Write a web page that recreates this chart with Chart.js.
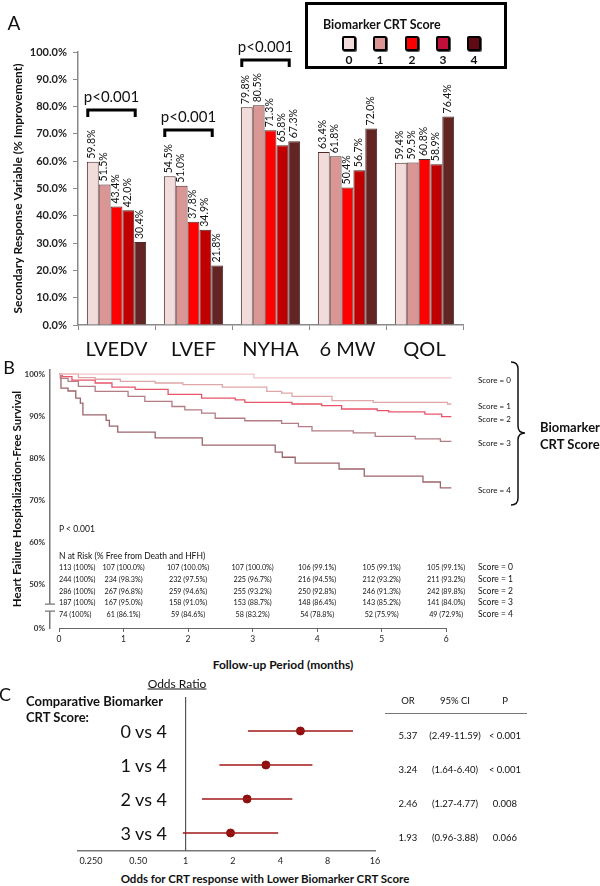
<!DOCTYPE html>
<html>
<head>
<meta charset="utf-8">
<title>Biomarker CRT Score</title>
<script src="https://cdn.jsdelivr.net/npm/chart.js@4.4.1/dist/chart.umd.min.js"></script>
<style>
  html, body { margin: 0; padding: 0; background: #fff; }
  #page { position: relative; width: 600px; height: 886px; overflow: hidden; font-family: Lato, 'Open Sans', sans-serif; color: #111; }
  #page canvas { position: absolute; }
  .lbl { position: absolute; white-space: nowrap; line-height: 1.1; }
  #legendBox { position: absolute; left: 305px; top: 2px; width: 196px; height: 61px; border: 3px solid #000; }
  .sw { position: absolute; width: 10px; height: 11px; border: 2px solid #000; border-radius: 2px; box-shadow: 1px 1px 0 #555; }
  .rule { position: absolute; height: 0; border-top: 1.5px solid #777; }
</style>
</head>
<body>
<div id="page">
  <canvas id="chartA" width="475" height="375" style="left:0;top:0"></canvas>
  <canvas id="chartB" width="600" height="290" style="left:0;top:360px"></canvas>
  <canvas id="chartC" width="420" height="181" style="left:0;top:690px"></canvas>
  <div id="legendBox"></div>
</div>
<script>
// ---- Panel A: secondary response by biomarker score ----
const outcomes = ['LVEDV', 'LVEF', 'NYHA', '6 MW', 'QOL'];
const scoreLabels = ['0', '1', '2', '3', '4'];
const score0Pct = [59.8, 54.5, 79.8, 63.4, 59.4];
const score1Pct = [51.5, 51.0, 80.5, 61.8, 59.5];
const score2Pct = [43.4, 37.8, 71.3, 50.4, 60.8];
const score3Pct = [42.0, 34.9, 65.8, 56.7, 58.9];
const score4Pct = [30.4, 21.8, 67.3, 72.0, 76.4];
const pctTicks = [0, 10, 20, 30, 40, 50, 60, 70, 80, 90, 100];
const bracketOutcomes = [0, 1, 2];
const bracketLevels = [78.8, 71.4, 97.1];
const bracketText = 'p<0.001';

// ---- Panel B: Kaplan-Meier curves (months, % free) ----
const km0Time = [0, 3.02, 6.08];
const km0Surv = [100, 99.1, 99.1];
const km1Time = [0, 0.30, 0.56, 0.95, 1.49, 1.92, 2.53, 3.22, 3.45, 3.61, 4.23, 4.87, 6.02, 6.08];
const km1Surv = [100, 99.2, 98.8, 98.3, 97.9, 97.5, 96.9, 95.9, 95.5, 94.7, 93.7, 93.3, 92.9, 92.9];
const km2Time = [0, 0.05, 0.20, 0.56, 0.82, 1.18, 1.69, 2.21, 2.73, 2.88, 3.61, 4.07, 4.38, 4.93, 5.11, 5.67, 5.93, 6.08];
const km2Surv = [100, 99.4, 98.6, 97.9, 96.9, 96.4, 95.2, 94.3, 93.9, 93.3, 92.9, 92.5, 91.7, 91.3, 91.0, 90.5, 89.9, 89.9];
const km3Time = [0, 0.02, 0.14, 0.30, 0.56, 1.07, 1.33, 1.75, 1.95, 2.21, 2.42, 2.88, 3.45, 3.71, 3.92, 4.56, 4.90, 5.52, 5.91, 6.08];
const km3Surv = [100, 99.0, 98.3, 97.1, 95.9, 94.7, 93.5, 92.3, 91.5, 90.7, 89.5, 88.9, 88.3, 87.5, 86.5, 86.0, 85.2, 84.6, 84.0, 84.0];
const km4Time = [0, 0.03, 0.14, 0.26, 0.33, 0.37, 0.73, 0.78, 0.91, 1.49, 2.22, 3.35, 3.46, 3.66, 4.34, 4.73, 5.64, 5.91, 6.08];
const km4Surv = [100, 96.7, 96.0, 94.3, 93.1, 90.3, 89.0, 87.6, 86.2, 84.8, 83.1, 81.4, 80.2, 78.8, 77.4, 75.7, 74.3, 72.9, 72.9];
const monthTicks = [0, 1, 2, 3, 4, 5, 6];
const survTickValues = [39.5, 50, 60, 70, 80, 90, 100];
const survTickLabels = ['0%', '50%', '60%', '70%', '80%', '90%', '100%'];
const riskScore0 = ['113 (100%)', '107 (100.0%)', '107 (100.0%)', '107 (100.0%)', '106 (99.1%)', '105 (99.1%)', '105 (99.1%)'];
const riskScore1 = ['244 (100%)', '234 (98.3%)', '232 (97.5%)', '225 (96.7%)', '216 (94.5%)', '212 (93.2%)', '211 (93.2%)'];
const riskScore2 = ['286 (100%)', '267 (96.8%)', '259 (94.6%)', '255 (93.2%)', '250 (92.8%)', '246 (91.3%)', '242 (89.8%)'];
const riskScore3 = ['187 (100%)', '167 (95.0%)', '158 (91.0%)', '153 (88.7%)', '148 (86.4%)', '143 (85.2%)', '141 (84.0%)'];
const riskScore4 = ['74 (100%)', '61 (86.1%)', '59 (84.6%)', '58 (83.2%)', '54 (78.8%)', '52 (75.9%)', '49 (72.9%)'];

// ---- Panel C: odds ratios ----
const comparisons = ['0 vs 4', '1 vs 4', '2 vs 4', '3 vs 4'];
const oddsRatios = [5.37, 3.24, 2.46, 1.93];
const ciLow = [2.49, 1.64, 1.27, 0.96];
const ciHigh = [11.59, 6.40, 4.77, 3.88];
const pValues = ['< 0.001', '< 0.001', '0.008', '0.066'];
const orTicks = [0.25, 0.5, 1, 2, 4, 8, 16];
const orTickLabels = ['0.250', '0.50', '1', '2', '4', '8', '16'];

const page = document.getElementById('page');
const barColors = ['#f2dcdb', '#d99694', '#ff0000', '#c00000', '#632523'];
const legendColors = ['#f2dcdb', '#d99694', '#ff0000', '#c0103a', '#600a14'];
const kmColors = ['#f4c6c6', '#dfa6a8', '#e85468', '#b47c84', '#9c646a'];
const ciColor = '#a01818';

function put(text, x, y, font, anchor = 'center', extra = '') {
  const d = document.createElement('div');
  d.className = 'lbl';
  d.textContent = text;
  const ax = anchor === 'left' ? '0%' : anchor === 'right' ? '-100%' : '-50%';
  d.style.cssText = `left:${x}px;top:${y}px;font:${font};transform:translate(${ax},-50%);${extra}`;
  page.appendChild(d);
  return d;
}

// Panel A
const barLabelPlugin = {
  id: 'barLabels',
  afterDatasetsDraw(chart) {
    const ctx = chart.ctx;
    ctx.save();
    ctx.font = '10.5px Lato';
    ctx.fillStyle = '#111';
    ctx.textAlign = 'left';
    ctx.textBaseline = 'middle';
    chart.data.datasets.forEach((ds, i) => {
      chart.getDatasetMeta(i).data.forEach((bar, j) => {
        ctx.save();
        ctx.translate(bar.x - 1, bar.y - 3);
        ctx.rotate(-Math.PI / 2);
        ctx.fillText(ds.data[j].toFixed(1) + '%', 0, 0);
        ctx.restore();
      });
    });
    ctx.restore();
  }
};

const bracketPlugin = {
  id: 'brackets',
  afterDatasetsDraw(chart) {
    const ctx = chart.ctx;
    const first = chart.getDatasetMeta(0);
    const last = chart.getDatasetMeta(4);
    ctx.save();
    bracketOutcomes.forEach((c, k) => {
      const x0 = first.data[c].x - 5;
      const x1 = last.data[c].x - 5;
      const yy = chart.scales.y.getPixelForValue(bracketLevels[k]);
      ctx.beginPath();
      ctx.moveTo(x0, yy + 7);
      ctx.lineTo(x0, yy);
      ctx.lineTo(x1, yy);
      ctx.lineTo(x1, yy + 7);
      ctx.lineWidth = 3;
      ctx.strokeStyle = '#000';
      ctx.stroke();
      ctx.font = '15px Lato';
      ctx.fillStyle = '#111';
      ctx.textAlign = 'center';
      ctx.textBaseline = 'middle';
      ctx.fillText(bracketText, (x0 + x1) / 2, yy - 13);
    });
    ctx.restore();
  }
};

const scoreSeries = [score0Pct, score1Pct, score2Pct, score3Pct, score4Pct];
new Chart(document.getElementById('chartA'), {
  type: 'bar',
  data: {
    labels: outcomes,
    datasets: scoreSeries.map((vals, i) => ({
      label: 'Score ' + scoreLabels[i],
      data: vals,
      backgroundColor: barColors[i],
      borderColor: '#4a2a2a',
      borderWidth: 1,
      categoryPercentage: 0.77,
      barPercentage: 1.0
    }))
  },
  options: {
    responsive: false,
    animation: false,
    layout: { padding: { top: 52, right: 12, bottom: 10, left: 0 } },
    plugins: { legend: { display: false }, tooltip: { enabled: false } },
    scales: {
      x: {
        grid: { offset: true, drawOnChartArea: false, tickLength: 5, color: '#8a8a8a' },
        border: { color: '#8a8a8a', width: 1.5 },
        ticks: { font: { family: 'Lato', size: 20 }, color: '#111', padding: 8 },
        afterFit: s => { s.height = 40; }
      },
      y: {
        min: 0, max: 100, bounds: 'data',
        afterBuildTicks: s => { s.ticks = pctTicks.map(v => ({ value: v })); },
        ticks: { callback: v => v.toFixed(1) + '%', font: { family: 'Lato', size: 11, weight: 'bold' }, color: '#222', padding: 6 },
        grid: { drawOnChartArea: false, tickLength: 5, color: '#8a8a8a' },
        border: { color: '#8a8a8a', width: 1.5 },
        title: {
          display: true, text: 'Secondary Response Variable (% Improvement)',
          font: { family: 'Lato', size: 12, weight: 'bold' }, color: '#111', padding: { top: 11, bottom: 0 }
        },
        afterFit: s => { s.width = 78; }
      }
    }
  },
  plugins: [barLabelPlugin, bracketPlugin]
});

put('A', 14, 22, '19px Lato');
put('Biomarker CRT Score', 323, 24, 'bold 12.5px Lato', 'left');
const swatchX = [349, 380, 412, 443, 474];
scoreLabels.forEach((s, i) => {
  const sw = document.createElement('div');
  sw.className = 'sw';
  sw.style.left = (swatchX[i] - 7) + 'px';
  sw.style.top = '36px';
  sw.style.background = legendColors[i];
  page.appendChild(sw);
  put(s, swatchX[i], 59, 'bold 12px Lato');
});

// Panel B
const kmTimes = [km0Time, km1Time, km2Time, km3Time, km4Time];
const kmSurv = [km0Surv, km1Surv, km2Surv, km3Surv, km4Surv];
const riskRows = [riskScore0, riskScore1, riskScore2, riskScore3, riskScore4];

const kmDecorPlugin = {
  id: 'kmDecor',
  afterDraw(chart) {
    const ctx = chart.ctx;
    const xs = chart.scales.x, ys = chart.scales.y;
    const a = chart.chartArea;
    ctx.save();
    // x axis line only from 0 to 6 months
    ctx.strokeStyle = '#666';
    ctx.lineWidth = 1.2;
    ctx.beginPath();
    ctx.moveTo(xs.getPixelForValue(monthTicks[0]), a.bottom + 0.5);
    ctx.lineTo(xs.getPixelForValue(monthTicks[monthTicks.length - 1]), a.bottom + 0.5);
    ctx.stroke();
    // axis break
    const yb1 = ys.getPixelForValue(45.2), yb2 = ys.getPixelForValue(43.5);
    ctx.fillStyle = '#fff';
    ctx.fillRect(a.left - 3, yb1, 6, yb2 - yb1);
    ctx.strokeStyle = '#777';
    ctx.lineWidth = 1.2;
    ctx.beginPath();
    ctx.moveTo(a.left - 5, yb1); ctx.lineTo(a.left + 5, yb1);
    ctx.moveTo(a.left - 5, yb2); ctx.lineTo(a.left + 5, yb2);
    ctx.stroke();
    // brace
    const bx = 518, bt = 2, bm = 73, bb = 145;
    ctx.strokeStyle = '#111';
    ctx.lineWidth = 1.5;
    ctx.beginPath();
    ctx.moveTo(bx - 7, bt);
    ctx.quadraticCurveTo(bx, bt, bx, bt + 7);
    ctx.lineTo(bx, bm - 7);
    ctx.quadraticCurveTo(bx, bm, bx + 7, bm);
    ctx.quadraticCurveTo(bx, bm, bx, bm + 7);
    ctx.lineTo(bx, bb - 7);
    ctx.quadraticCurveTo(bx, bb, bx - 7, bb);
    ctx.stroke();
    ctx.restore();
  }
};

const chartB = new Chart(document.getElementById('chartB'), {
  type: 'line',
  data: {
    datasets: kmTimes.map((times, i) => ({
      label: 'Score = ' + scoreLabels[i],
      data: times.map((t, j) => ({ x: t, y: kmSurv[i][j] })),
      stepped: true,
      borderColor: kmColors[i],
      borderWidth: 1.3,
      pointRadius: 0,
      fill: false
    }))
  },
  options: {
    responsive: false,
    animation: false,
    layout: { padding: { top: 10, right: 148, bottom: 0, left: 0 } },
    plugins: { legend: { display: false }, tooltip: { enabled: false } },
    scales: {
      x: {
        type: 'linear', min: -0.14, max: 6.09, bounds: 'data',
        afterBuildTicks: s => { s.ticks = monthTicks.map(v => ({ value: v })); },
        ticks: { callback: v => String(v), font: { family: 'Lato', size: 8.5 }, color: '#222', padding: 2 },
        grid: { drawOnChartArea: false, tickLength: 4, color: '#666' },
        border: { display: false },
        afterFit: s => { s.height = 22; }
      },
      y: {
        min: 39.5, max: 101, bounds: 'data',
        afterBuildTicks: s => { s.ticks = survTickValues.map(v => ({ value: v })); },
        ticks: {
          callback: v => survTickLabels[survTickValues.indexOf(v)],
          font: { family: 'Lato', size: 8, weight: 'bold' }, color: '#333', padding: 5
        },
        grid: { drawOnChartArea: false, drawTicks: false, color: '#777' },
        border: { color: '#777', width: 1.5 },
        title: {
          display: true, text: 'Heart Failure Hospitalization-Free Survival',
          font: { family: 'Lato', size: 11.5, weight: 'bold' }, color: '#111', padding: { top: 10, bottom: 0 }
        },
        afterFit: s => { s.width = 50; }
      }
    }
  },
  plugins: [kmDecorPlugin]
});

const bTop = 360;
put('B', 9, 367, '18px Lato');
put('P < 0.001', 59, 529, '8.5px Lato', 'left');
put('N at Risk (% Free from Death and HFH)', 59, 556, '8.5px Lato', 'left');
riskRows.forEach((row, r) => {
  const y = 567 + r * 11.75;
  row.forEach((cell, c) => {
    const x = chartB.scales.x.getPixelForValue(monthTicks[c]);
    if (c === 0) put(cell, x, y, '7.2px Lato', 'left');
    else put(cell, x, y, '7.2px Lato');
  });
  put('Score = ' + scoreLabels[r], 478, y, '8.5px Lato', 'left');
});
kmSurv.forEach((surv, i) => {
  const y = bTop + chartB.scales.y.getPixelForValue(surv[surv.length - 1]) + 2;
  put('Score = ' + scoreLabels[i], 478, y, '8px Lato', 'left');
});
put('Biomarker', 540, 427, 'bold 13px Lato', 'left');
put('CRT Score', 540, 444, 'bold 13px Lato', 'left');
put('Follow-up Period (months)', 283, 664, 'bold 12px Lato');

// Panel C
const refLinePlugin = {
  id: 'refLine',
  beforeDatasetsDraw(chart) {
    const ctx = chart.ctx;
    const x = chart.scales.x.getPixelForValue(1);
    ctx.save();
    ctx.strokeStyle = '#555';
    ctx.lineWidth = 1.2;
    ctx.beginPath();
    ctx.moveTo(x, chart.chartArea.top);
    ctx.lineTo(x, chart.chartArea.bottom);
    ctx.stroke();
    ctx.restore();
  }
};

const chartC = new Chart(document.getElementById('chartC'), {
  type: 'scatter',
  data: {
    datasets: [
      ...comparisons.map((c, i) => ({
        label: c + ' CI',
        data: [{ x: ciLow[i], y: i }, { x: ciHigh[i], y: i }],
        showLine: true,
        borderColor: ciColor,
        borderWidth: 1.5,
        pointRadius: 0
      })),
      {
        label: 'Odds ratio',
        data: oddsRatios.map((v, i) => ({ x: v, y: i })),
        pointRadius: 4,
        backgroundColor: '#8e0f0f',
        borderColor: '#8e0f0f'
      }
    ]
  },
  options: {
    responsive: false,
    animation: false,
    layout: { padding: { top: 7, right: 45, bottom: 0, left: 78 } },
    plugins: { legend: { display: false }, tooltip: { enabled: false } },
    scales: {
      x: {
        type: 'logarithmic', min: 0.207, max: 16, bounds: 'data',
        afterBuildTicks: s => { s.ticks = orTicks.map(v => ({ value: v })); },
        ticks: {
          callback: v => orTickLabels[orTicks.indexOf(v)],
          font: { family: 'Lato', size: 9 }, color: '#222', padding: 5, autoSkip: false, maxRotation: 0
        },
        grid: { drawOnChartArea: false, drawTicks: false, color: '#777' },
        border: { color: '#777', width: 1.5 },
        afterFit: s => { s.height = 20; }
      },
      y: { display: false, reverse: true, min: -1, max: 3.53 }
    }
  },
  plugins: [refLinePlugin]
});

const cTop = 690;
put('C', 5, 694, '18px Lato');
put('Odds Ratio', 177, 683, '12px Lato', 'center', 'text-decoration:underline;');
put('Comparative Biomarker', 26, 701, 'bold 13px Lato', 'left');
put('CRT Score:', 26, 717, 'bold 13px Lato', 'left');
put('OR', 408, 700, '9.5px Lato');
put('95% CI', 455, 700, '9.5px Lato');
put('P', 505, 700, '9.5px Lato');
const rule = document.createElement('div');
rule.className = 'rule';
rule.style.cssText = 'left:385px;top:713px;width:142px;';
page.appendChild(rule);
comparisons.forEach((c, i) => {
  const y = cTop + chartC.scales.y.getPixelForValue(i);
  put(c, 167, y, '18px Lato', 'right');
  put(oddsRatios[i].toFixed(2), 408, y + 4, '9.5px Lato');
  put('(' + ciLow[i].toFixed(2) + '-' + ciHigh[i].toFixed(2) + ')', 455, y + 4, '9.5px Lato');
  put(pValues[i], 505, y + 4, '9.5px Lato');
});
put('Odds for CRT response with Lower Biomarker CRT Score', 265, 878, 'bold 11.5px Lato');
</script>
</body>
</html>
